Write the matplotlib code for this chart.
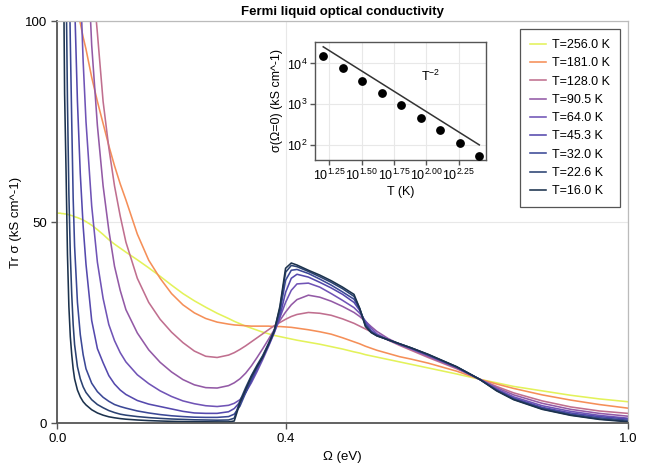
import matplotlib
matplotlib.use("Agg")
import matplotlib.pyplot as plt
import numpy as np

plt.rcParams['font.family'] = ['Liberation Sans', 'DejaVu Sans']
plt.rcParams['mathtext.fontset'] = 'custom'
plt.rcParams['mathtext.rm'] = 'Liberation Sans'
plt.rcParams['mathtext.it'] = 'Liberation Sans:italic'
plt.rcParams['mathtext.bf'] = 'Liberation Sans:bold'

# ---------------- data ----------------
omega = [0, 0.0025, 0.005, 0.0075, 0.01, 0.0125, 0.015, 0.0175, 0.02, 0.0225, 0.025, 0.0275, 0.03,
         0.035, 0.04, 0.045, 0.05,
         0.06, 0.07, 0.08, 0.09, 0.10, 0.11, 0.12,
         0.14, 0.16, 0.18, 0.20, 0.22, 0.24, 0.26, 0.28, 0.30,
         0.31, 0.32, 0.33, 0.34, 0.35, 0.36, 0.37, 0.38, 0.39, 0.40, 0.41, 0.42,
         0.44, 0.46, 0.48, 0.50, 0.52,
         0.53, 0.54, 0.55, 0.56,
         0.58, 0.60, 0.62, 0.65, 0.70, 0.74,
         0.77, 0.80, 0.85, 0.90, 0.95, 1.00]

sigma_256 = [52.2, 52.2, 52.2, 52.1, 52.1, 52.0, 52.0, 51.9, 51.8, 51.7, 51.6, 51.5, 51.3,
             51.1, 50.8, 50.5, 50.1,
             49.2, 48.1, 46.9, 45.6, 44.5, 43.5, 42.5,
             40.6, 38.6, 36.5, 34.3, 32.2, 30.4, 28.8, 27.3, 26.0,
             25.3, 24.7, 24.1, 23.6, 23.1, 22.6, 22.2, 21.8, 21.5, 21.2, 20.9, 20.6,
             20.1, 19.6, 19.0, 18.4, 17.7,
             17.4, 17.0, 16.7, 16.4,
             15.8, 15.2, 14.6, 13.7, 12.2, 10.9,
             10.0, 9.1, 8.0, 6.9, 6.0, 5.3]

sigma_181 = [114, 114, 113.8, 113.5, 113, 112.5, 112, 111, 110, 109, 108, 106.5, 105,
             102, 99.5, 96, 93,
             86, 80, 74.5, 69, 64, 59.5, 55.5,
             47, 40.5, 36.0, 32.2, 29.4, 27.4, 26.0, 25.1, 24.6,
             24.4, 24.3, 24.2, 24.1, 24.1, 24.1, 24.1, 24.0, 24.0, 23.9, 23.8, 23.6,
             23.2, 22.7, 22.1, 21.2, 20.2,
             19.7, 19.1, 18.6, 18.1,
             17.3, 16.5, 15.9, 14.9, 12.9, 10.9,
             9.7, 8.6, 7.0, 5.7, 4.6, 3.7]

sigma_128 = [232, 232, 231, 228, 225, 221, 217, 212, 207, 201, 195, 189, 183,
             171, 158, 146, 134,
             113, 97, 80, 68.5, 59, 51.5, 45,
             36, 30, 25.8, 22.6, 20.0, 17.9, 16.6, 16.3, 16.9,
             17.5, 18.3, 19.2, 20.2, 21.2, 22.2, 23.2, 24.2, 25.0, 25.8, 26.5, 27.0,
             27.5, 27.3, 26.8, 25.9, 24.8,
             24.1, 23.4, 22.7, 22.0,
             20.6, 19.3, 18.1, 16.3, 13.5, 10.9,
             9.1, 7.5, 5.5, 4.0, 3.0, 2.4]

sigma_90 = [470, 466, 456, 440, 420, 396, 371, 345, 318, 293, 270, 247, 228,
            198, 170, 145, 125,
            94, 74, 59, 48, 39, 33.0, 28.2,
            22.4, 18.2, 15.1, 12.7, 10.8, 9.5, 8.8, 8.7, 9.3,
            10.0, 11.0, 12.4, 14.2, 16.3, 18.5, 20.8, 23.2, 25.5, 27.6, 29.4, 30.7,
            31.8, 31.3, 30.3, 29.0, 27.5,
            26.5, 25.3, 24.0, 22.8,
            21.0, 19.6, 18.4, 16.6, 13.7, 10.9,
            8.8, 7.0, 4.9, 3.4, 2.4, 1.7]

sigma_64 = [930, 905, 830, 730, 630, 530, 445, 375, 315, 270, 232, 200, 175,
            138, 110, 90, 75,
            54, 40, 31, 24.5, 20.5, 17.5, 15.2,
            12.0, 9.8, 8.0, 6.6, 5.5, 4.8, 4.3, 4.1, 4.4,
            4.9, 5.8, 7.6, 10.0, 12.8, 15.8, 19.0, 22.4, 26.2, 30.0, 33.0, 34.6,
            34.8, 33.8, 32.2, 30.5, 28.7,
            27.3, 25.4, 23.6, 22.2,
            20.7, 19.5, 18.5, 16.8, 13.8, 10.9,
            8.5, 6.5, 4.3, 2.9, 1.9, 1.2]

sigma_45 = [1920, 1710, 1300, 930, 670, 480, 360, 275, 220, 178, 146, 122, 105,
            80, 62, 49, 39.5,
            25.5, 18.5, 15, 11.8, 9.7, 8.2, 7.1,
            5.6, 4.7, 4.1, 3.5, 2.9, 2.5, 2.4, 2.4, 2.8,
            3.6, 5.2, 7.6, 10.4, 13.4, 16.3, 19.3, 22.5, 26.5, 32.5, 36.0, 37.0,
            36.3, 35.0, 33.6, 32.0, 30.0,
            28.0, 25.0, 23.0, 21.9,
            20.7, 19.6, 18.6, 16.9, 13.9, 10.9,
            8.3, 6.2, 3.9, 2.5, 1.6, 1.0]

sigma_32 = [3770, 2550, 1290, 700, 430, 290, 205, 150, 118, 95, 75, 56, 44,
            30, 22, 17, 13.5,
            9.9, 7.8, 6.4, 5.4, 4.6, 4.1, 3.7,
            3.0, 2.5, 2.1, 1.8, 1.6, 1.45, 1.4, 1.4, 1.6,
            2.2, 4.2, 7.5, 10.8, 13.8, 16.6, 19.5, 22.8, 27.5, 35.5, 38.0, 38.2,
            37.2, 35.8, 34.3, 32.6, 30.8,
            28.3, 24.5, 22.7, 21.8,
            20.7, 19.7, 18.7, 17.0, 13.9, 10.9,
            8.2, 6.0, 3.7, 2.2, 1.3, 0.7]

sigma_22 = [7670, 2600, 900, 420, 240, 160, 112, 80, 57, 42, 32, 24.5, 19.5,
            14, 11, 9.0, 7.6,
            5.8, 4.6, 3.8, 3.1, 2.6, 2.2, 1.95,
            1.6, 1.35, 1.15, 1.0, 0.9, 0.8, 0.75, 0.7, 0.75,
            1.2, 5.5, 8.8, 11.8, 14.4, 16.8, 19.8, 23.0, 28.5, 37.5, 39.2, 38.9,
            37.7, 36.4, 35.0, 33.4, 31.5,
            28.5, 24.3, 22.6, 21.7,
            20.7, 19.7, 18.7, 17.0, 14.0, 10.9,
            8.1, 5.9, 3.5, 2.0, 1.0, 0.45]

sigma_16 = [15300, 1760, 480, 217, 125, 82, 63, 42, 29, 21.5, 17, 13.5, 11,
            8.2, 6.5, 5.3, 4.5,
            3.3, 2.5, 1.95, 1.55, 1.3, 1.1, 0.95,
            0.75, 0.6, 0.5, 0.42, 0.36, 0.32, 0.3, 0.28, 0.28,
            0.5, 5.0, 8.3, 11.5, 14.1, 16.4, 19.5, 22.8, 29.0, 38.5, 39.8, 39.3,
            38.0, 36.8, 35.4, 33.8, 32.0,
            28.5, 24.0, 22.5, 21.7,
            20.7, 19.7, 18.7, 17.1, 14.0, 10.9,
            8.0, 5.8, 3.4, 1.9, 0.9, 0.3]

temperatures = [256.0, 181.0, 128.0, 90.5, 64.0, 45.3, 32.0, 22.6, 16.0]
series = [sigma_256, sigma_181, sigma_128, sigma_90, sigma_64, sigma_45, sigma_32, sigma_22, sigma_16]
colors = ['#e3f25a', '#f58f58', '#c06f8f', '#935aa6', '#7054b6', '#5549ad', '#3b4896', '#2b4272', '#1c324d']

# inset data
T_inset = [16.0, 22.6, 32.0, 45.3, 64.0, 90.5, 128.0, 181.0, 256.0]
sigma0_inset = [15300, 7670, 3770, 1920, 930, 463, 232, 114, 53]
fit_T = [16.0, 256.0]
fit_sigma = [25600, 100]

# ---------------- figure ----------------
fig = plt.figure(figsize=(6.48, 4.65), dpi=100)
ax = fig.add_axes([0.0887, 0.0903, 0.880, 0.8645])

for T, s, c in zip(temperatures, series, colors):
    ax.plot(omega, s, color=c, lw=1.15, label=f"T={T:.1f} K", solid_joinstyle='round')

ax.set_xlim(0, 1.0)
ax.set_ylim(0, 100)
ax.set_xticks([0.0, 0.4, 1.0])
ax.set_xticklabels(['0.0', '0.4', '1.0'])
ax.set_yticks([0, 50, 100])
ax.set_yticklabels(['0', '50', '100'])
ax.tick_params(direction='out', length=4, width=1.0, color='#555555', labelsize=9.5, pad=3.5)
ax.grid(True, color='#e8e8e8', lw=0.8)
ax.set_axisbelow(True)
for sp in ['left', 'bottom']:
    ax.spines[sp].set_color('#555555')
    ax.spines[sp].set_linewidth(1.3)
for sp in ['top', 'right']:
    ax.spines[sp].set_color('#bbbbbb')
    ax.spines[sp].set_linewidth(0.9)

ax.set_xlabel('Ω (eV)', fontsize=9.5, labelpad=4)
ax.set_ylabel('Tr σ (kS cm^-1)', fontsize=9.5, labelpad=2)
ax.set_title('Fermi liquid optical conductivity', fontsize=9.5, fontweight='bold', pad=4)

leg = ax.legend(loc='upper right', fontsize=9, frameon=True, fancybox=False,
                edgecolor='#555555', framealpha=1, borderaxespad=0.65,
                handlelength=1.3, handletextpad=0.45, labelspacing=0.5, borderpad=0.8)
leg.get_frame().set_linewidth(0.9)

# ---------------- inset ----------------
axin = fig.add_axes([0.486, 0.656, 0.264, 0.254])
axin.set_xscale('log')
axin.set_yscale('log')
axin.plot(fit_T, fit_sigma, color='#333333', lw=1.1)
axin.scatter(T_inset, sigma0_inset, s=28, color='black', zorder=3)
axin.set_xlim(10 ** 1.14, 10 ** 2.46)
axin.set_ylim(10 ** 1.63, 10 ** 4.53)
xt_exp = [1.25, 1.50, 1.75, 2.00, 2.25]
axin.set_xticks([10 ** e for e in xt_exp])
axin.set_xticklabels(['$10^{%.2f}$' % e for e in xt_exp])
axin.set_yticks([1e2, 1e3, 1e4])
axin.set_yticklabels(['$10^{2}$', '$10^{3}$', '$10^{4}$'])
axin.minorticks_off()
axin.tick_params(direction='out', length=3.5, width=1.0, color='#555555', labelsize=9, pad=2)
axin.grid(True, color='#e8e8e8', lw=0.8)
axin.set_axisbelow(True)
for sp in axin.spines.values():
    sp.set_color('#555555')
    sp.set_linewidth(1.0)
axin.set_xlabel('T (K)', fontsize=9, labelpad=2)
axin.set_ylabel('σ(Ω=0) (kS cm^-1)', fontsize=9, labelpad=3)
axin.text(107, 4700, 'T$^{-2}$', fontsize=9, ha='center', va='center')

fig.savefig('out.png', dpi=100)
